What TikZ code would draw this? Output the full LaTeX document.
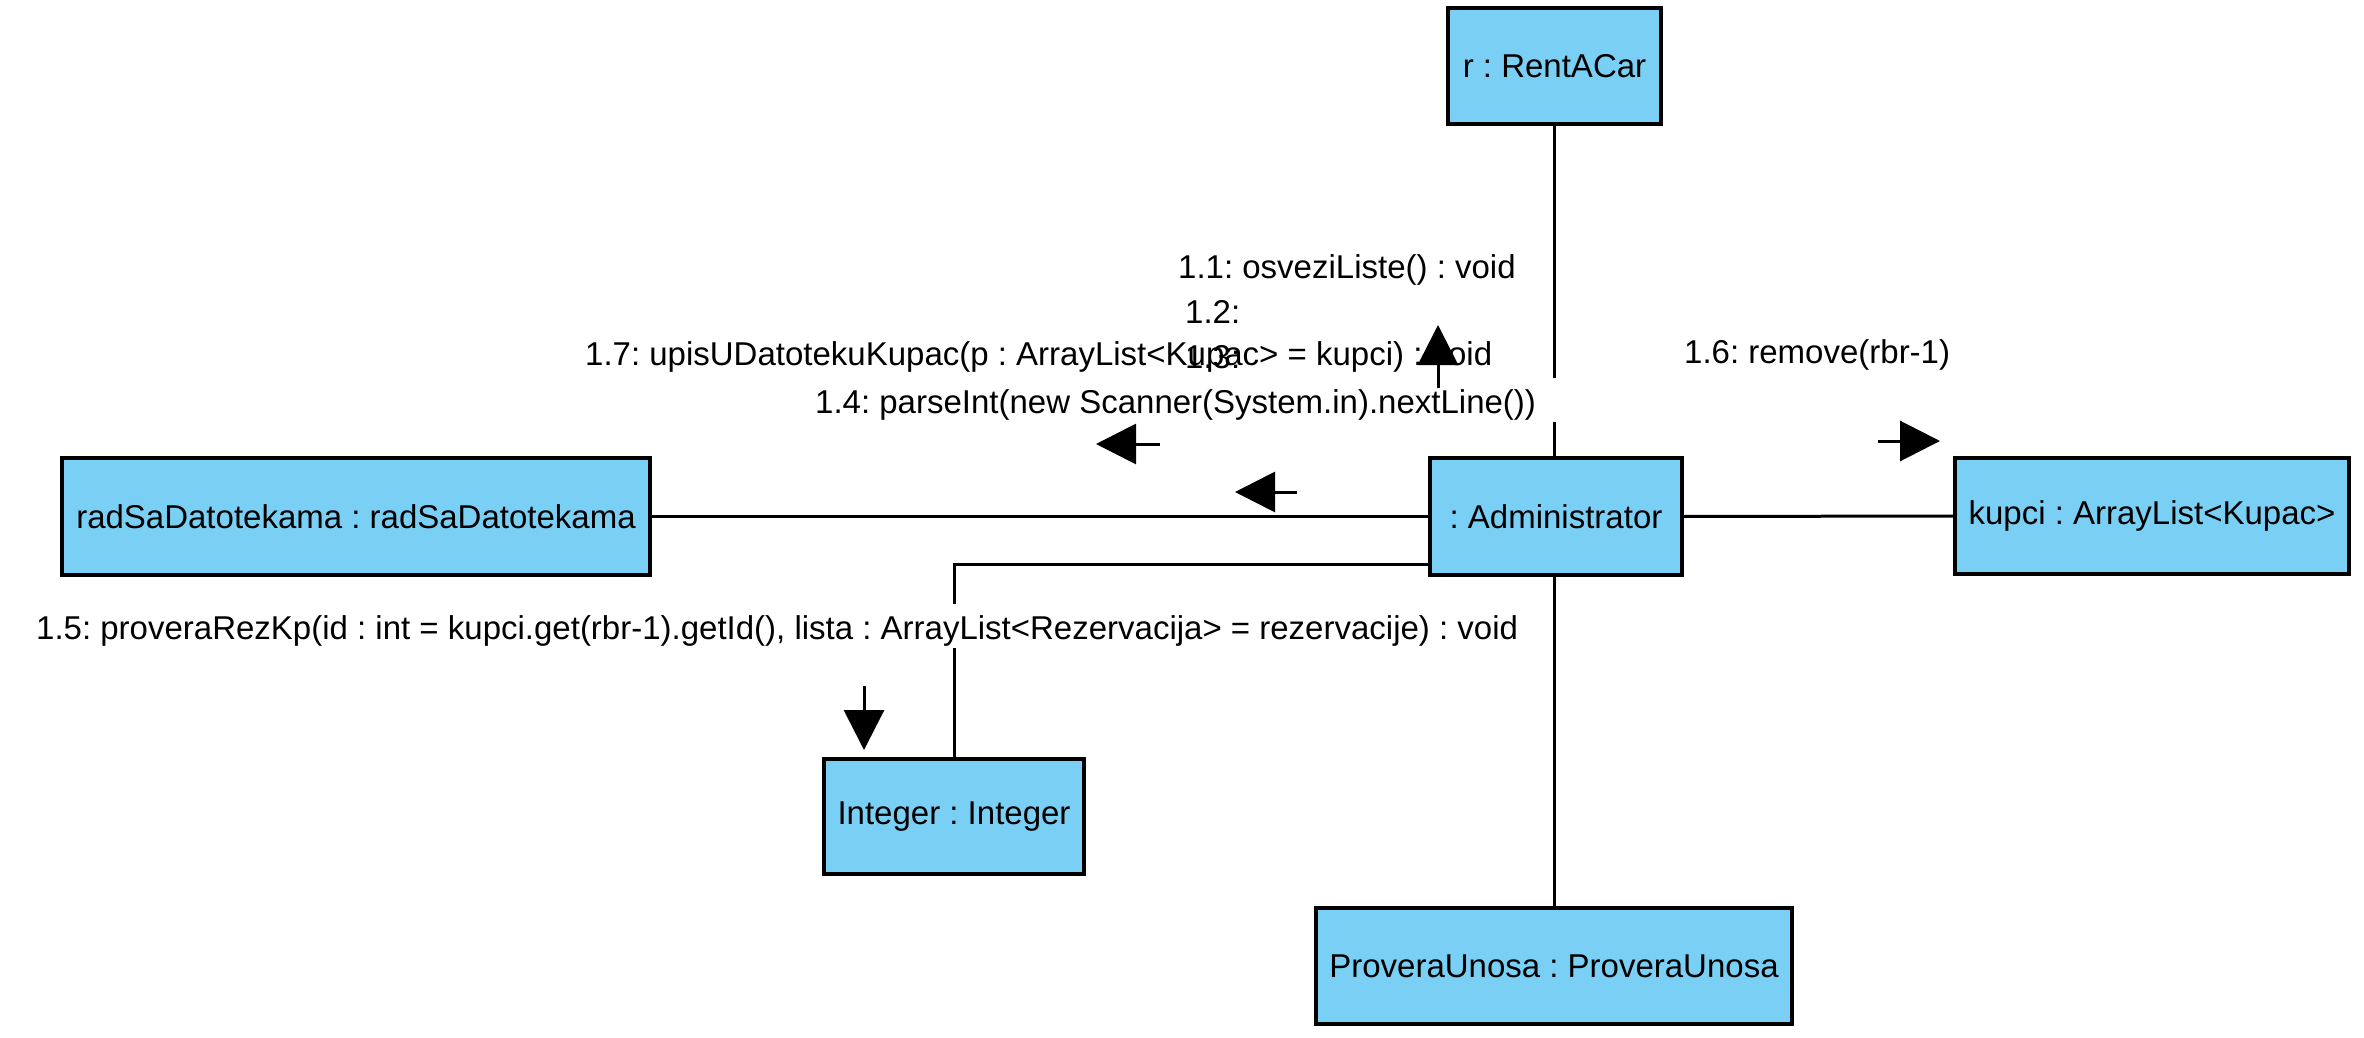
\documentclass[tikz,border=0pt]{standalone}
\usepackage{fontspec}
\setmainfont{Liberation Sans}
\usetikzlibrary{arrows.meta}
\definecolor{boxblue}{RGB}{122,207,245}
\frenchspacing
\begin{document}
\begin{tikzpicture}[x=1pt,y=-1pt,
  every node/.style={font=\fontsize{33}{40}\selectfont},
  objbox/.style={draw=black, line width=4pt, fill=boxblue, inner sep=0pt, outer sep=0pt, align=center},
  conn/.style={line width=3pt},
  msg/.style={line width=3pt, -{Triangle[length=40pt,width=40pt]}},
  lbl/.style={anchor=base west, inner sep=0pt},
  lblbg/.style={anchor=base west, fill=white, inner xsep=2pt, inner ysep=2pt, text height=33pt, text depth=7pt}
]
\useasboundingbox (0,0) rectangle (2364,1038);

% objects
\node[objbox, minimum width=213pt, minimum height=116pt] (r) at (1554.5,66) {r : RentACar};
\node[objbox, minimum width=252pt, minimum height=117pt] (adm) at (1556,516.5) {: Administrator};
\node[objbox, minimum width=394pt, minimum height=116pt] (kup) at (2152,516) {kupci : ArrayList<Kupac>};
\node[objbox, minimum width=588pt, minimum height=117pt] (rad) at (356,516.5) {radSaDatotekama : radSaDatotekama};
\node[objbox, minimum width=260pt, minimum height=115pt] (int) at (954,816.5) {Integer : Integer};
\node[objbox, minimum width=476pt, minimum height=116pt] (prov) at (1554,966) {ProveraUnosa : ProveraUnosa};

% links
\draw[conn] (r.south) -- (r.south |- adm.north);
\draw[conn] (rad.east) -- (adm.west);
\draw[conn] (adm.east) -- (kup.west);
\draw[conn] ([yshift=-47.5pt]adm.west) -| (int.north);
\draw[conn] (prov.north |- adm.south) -- (prov.north);

% message labels
\node[lbl] (l11) at (1178,278) {1.1: osveziListe() : void};
\node[lbl] (l12) at (1185,323) {1.2:};
\node[lbl] (l13) at (1185,368) {1.3:};
\node[lbl] (l17) at (585,365) {1.7: upisUDatotekuKupac(p : ArrayList<Kupac> = kupci) : void};
\node[lblbg, inner xsep=26pt] (l14) at (789,413) {1.4: parseInt(new Scanner(System.in).nextLine())};
\node[lbl] (l16) at (1684,363) {1.6: remove(rbr-1)};
\node[lblbg] (l15) at (34,639) {1.5: proveraRezKp(id : int = kupci.get(rbr-1).getId(), lista : ArrayList<Rezervacija> = rezervacije) : void};

% message arrows
\coordinate (a1s) at (1438,388); \coordinate (a1e) at (1438,325);
\coordinate (a2s) at (1160,444); \coordinate (a2e) at (1096,444);
\coordinate (a3s) at (1297,492); \coordinate (a3e) at (1235,492);
\coordinate (a4s) at (1878,441); \coordinate (a4e) at (1940,441);
\coordinate (a5s) at (864,686);  \coordinate (a5e) at (864,750);
\draw[msg] (a1s) -- (a1e);
\draw[msg] (a2s) -- (a2e);
\draw[msg] (a3s) -- (a3e);
\draw[msg] (a4s) -- (a4e);
\draw[msg] (a5s) -- (a5e);
\end{tikzpicture}
\end{document}
